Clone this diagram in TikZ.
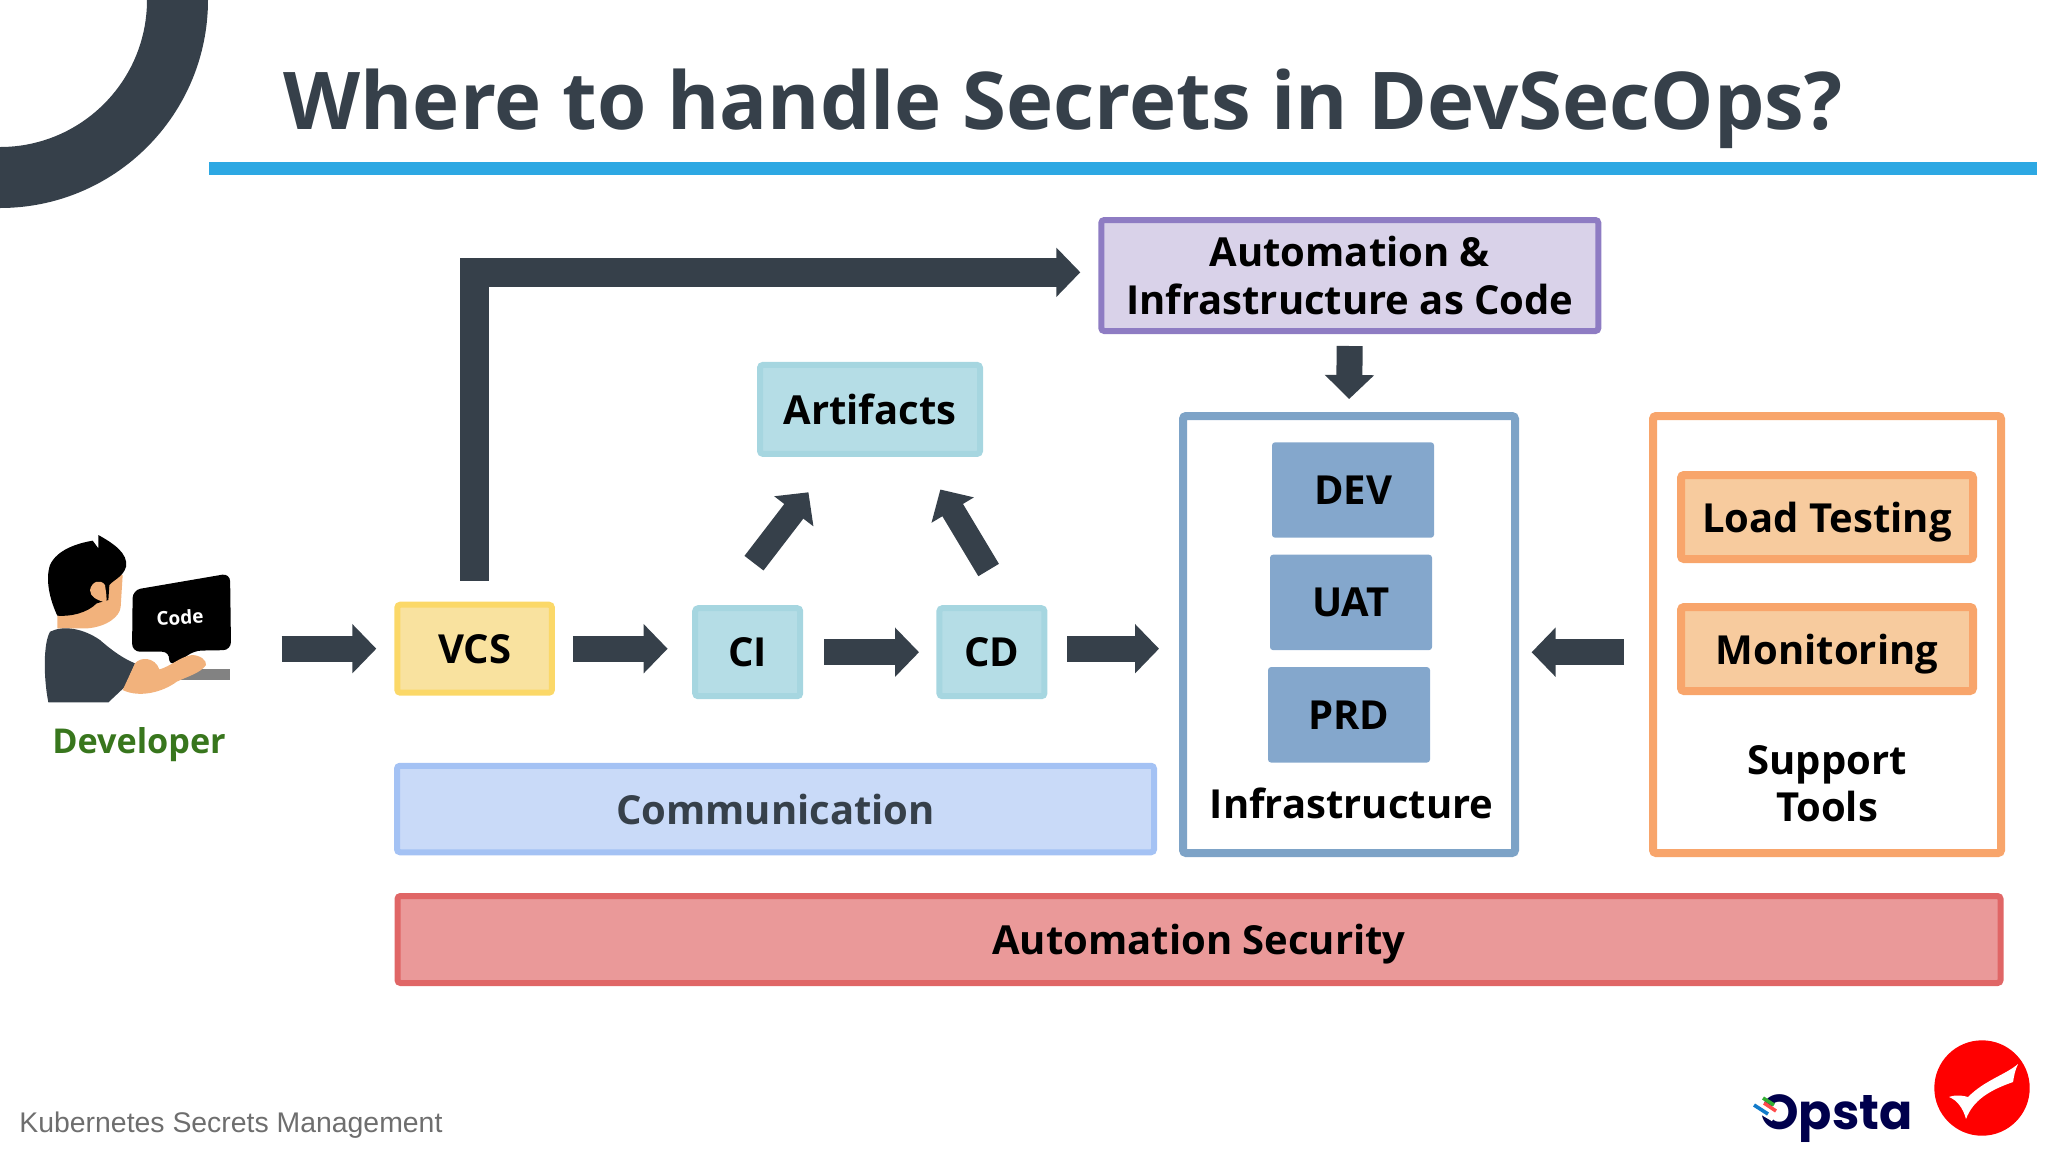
\documentclass[tikz,border=0pt]{standalone}
\usepackage{fontspec}
\setmainfont{Open Sans}
\newfontfamily\footfont{Liberation Sans}
\newfontfamily\logofont{Poppins}
\usepackage{tikz}
\usetikzlibrary{arrows.meta}

\definecolor{slate}{HTML}{36404A}
\definecolor{ruleblue}{HTML}{2DA8E3}
\definecolor{skin}{HTML}{F2B27C}
\definecolor{devgreen}{HTML}{38761D}
\definecolor{vcsline}{HTML}{FBD868}
\definecolor{vcsfill}{HTML}{F9E29F}
\definecolor{pipeline}{HTML}{A6D6E0}
\definecolor{pipefill}{HTML}{B5DDE6}
\definecolor{envfill}{HTML}{84A7CC}
\definecolor{toolline}{HTML}{F8A56B}
\definecolor{toolfill}{HTML}{F7CB9E}
\definecolor{iacline}{HTML}{8E7CC3}
\definecolor{iacfill}{HTML}{D9D2E9}
\definecolor{commline}{HTML}{A4C2F4}
\definecolor{commfill}{HTML}{C9DAF8}
\definecolor{secline}{HTML}{E06666}
\definecolor{secfill}{HTML}{EA9999}
\definecolor{infraline}{HTML}{7DA3C7}
\definecolor{footgray}{HTML}{6E6E6E}

\begin{document}
\begin{tikzpicture}[x=0.5pt,y=-0.5pt,node distance=50pt,
	base node/.style={rectangle,draw,line width=3pt,rounded corners=1.5pt,inner sep=0pt,font=\fontsize{20}{23.6}\selectfont\bfseries,align=center},
	vcs node/.style={base node,draw=vcsline,fill=vcsfill,minimum width=77.3pt,minimum height=44pt},
	pipe node/.style={base node,draw=pipeline,fill=pipefill,minimum height=44pt},
	env node/.style={base node,draw=none,outer sep=0pt,fill=envfill,minimum width=81pt,minimum height=47.7pt},
	frame node/.style={base node,line width=4pt,minimum height=218.5pt},
	tool node/.style={base node,line width=4pt,draw=toolline,fill=toolfill,minimum width=146pt,minimum height=42pt,text depth=0pt},
	big arrow/.style={draw=slate,line width=13pt,-{Triangle[width=24pt,length=12pt]}},
	plain label/.style={font=\fontsize{20}{23.6}\selectfont\bfseries,align=center,inner sep=0pt}]

	\useasboundingbox (0,0) rectangle (2048,1152);

	% header
	\fill[slate] (208,0) arc[start angle=0,end angle=90,radius=208] -- (0,147) arc[start angle=90,end angle=0,radius=147] -- cycle;
	\fill[ruleblue] (209,162) rectangle (2037,175);
	\node[anchor=base west,inner sep=0pt,text=slate,font=\fontsize{39.87}{48}\selectfont\bfseries] (title) at (283,129) {Where to handle Secrets in DevSecOps?};

	% developer
	\begin{scope}[shift={(0,500)},x=0.1667pt,y=-0.1667pt]
		\fill[black,rounded corners=4pt] (398,270) -- (690,220) -- (693,450) -- (580,452) -- (545,480) -- (505,498) -- (510,455) -- (396,455) -- cycle;
		\fill[black!40!gray!70] (540,508) rectangle (691,540);
		\fill[skin] (172,340) -- (172,385) -- (262,385) .. controls (320,380) and (360,350) .. (362,320) -- (368,225) -- (300,220) -- cycle;
		\fill[slate] (145,607) .. controls (130,530) and (130,430) .. (150,395) .. controls (190,375) and (250,385) .. (300,420) .. controls (340,455) and (370,475) .. (405,490) -- (375,560) -- (325,607) -- cycle;
		\fill[skin] (405,490) .. controls (420,470) and (465,470) .. (478,508) .. controls (510,500) and (540,470) .. (575,465) .. controls (600,465) and (620,480) .. (618,495) .. controls (600,520) and (560,530) .. (530,545) .. controls (490,575) and (420,595) .. (368,570) -- cycle;
		\fill[black] (172,347) .. controls (150,300) and (135,240) .. (150,195) .. controls (170,150) and (230,130) .. (278,122) -- (295,145) -- (295,105) .. controls (340,130) and (385,160) .. (378,200) .. controls (370,230) and (340,240) .. (328,255) -- (325,300) -- (290,310) .. controls (260,340) and (210,350) .. (172,347) -- cycle;
		\fill[skin] (270,270) .. controls (275,245) and (300,235) .. (315,255) .. controls (318,280) and (322,295) .. (318,308) .. controls (290,300) and (270,290) .. (270,270) -- cycle;
		\node[text=white,font=\fontsize{9.5}{11}\selectfont\bfseries,rotate=3,inner sep=0pt] (code) at (540,352) {Code};
	\end{scope}
	\node[minimum width=94pt,minimum height=50pt,inner sep=0pt] (dev) at (139.3,649) {};
	\node[text=devgreen,font=\fontsize{17.1}{21}\selectfont\bfseries,inner sep=0pt] (devlabel) at (139,745) {Developer};

	% pipeline
	\node[vcs node] (vcs) at (474.6,648.7) {VCS};
	\node[pipe node,minimum width=52.5pt] (ci) [right of=vcs,node distance=136.55pt,yshift=-1.75pt] {CI};
	\node[pipe node,minimum width=52.5pt] (cd) [right of=ci,node distance=122.1pt] {CD};
	\node[pipe node,minimum width=110pt,minimum height=44.5pt] (artifacts) at (870,409.4) {Artifacts};
	\node[base node,draw=iacline,fill=iacfill,minimum width=248.5pt,minimum height=55.5pt] (iac) at (1349.8,275.5) {Automation \&\\Infrastructure as Code};
	\node[base node,draw=commline,fill=commfill,text=slate,minimum width=378.5pt,minimum height=43.25pt] (comm) at (775.5,809) {Communication};
	\node[base node,draw=secline,fill=secfill,minimum width=801.5pt,minimum height=43.5pt,text depth=0pt] (sec) at (1199,939.5) {Automation Security};

	% infrastructure
	\node[frame node,draw=infraline,minimum width=166pt] (infra) at (1349,634.5) {};
	\node[env node] (dev env) at (1353,490) {DEV};
	\node[env node] (uat) [below of=dev env,node distance=56.2pt,xshift=-1pt] {UAT};
	\node[env node] (prd) [below of=uat,node distance=56.2pt,xshift=-1pt] {PRD};
	\node[plain label] (infra label) at (1351.7,803) {Infrastructure};

	% support tools
	\node[frame node,draw=toolline,minimum width=174pt] (support) at (1827,634.5) {};
	\node[tool node] (load) at (1827,517) {Load Testing};
	\node[tool node] (monitor) [below of=load,node distance=66pt] {Monitoring};
	\node[plain label] (support label) at (1827,784) {Support\\Tools};

	\draw[big arrow,shorten <=24pt,shorten >=9pt] (dev.east |- vcs) -- (vcs.west);
	\draw[big arrow,shorten <=9pt,shorten >=12.3pt] (vcs.east) -- (vcs.east -| ci.west);
	\draw[big arrow,shorten <=10.5pt,shorten >=8.7pt] (ci.east) -- (cd.west);
	\draw[big arrow,shorten <=9.8pt,shorten >=10pt] (cd.east |- vcs) -- (infra.west |- vcs);
	\draw[big arrow,shorten <=12.5pt,shorten >=6.3pt] (support.west |- cd) -- (infra.east |- cd);
	\draw[big arrow,shorten <=6pt,shorten >=6.5pt] (iac.south) -- (infra.north);
	\draw[big arrow,line width=14.5pt,miter limit=4,shorten <=10.5pt,shorten >=9pt] (vcs.north) |- ([yshift=1.6pt]iac.west);
	\draw[big arrow,line width=12pt,shorten <=26.5pt,shorten >=22.3pt] ([xshift=-13pt]ci.north) -- ([xshift=-17.2pt]artifacts.south);
	\draw[big arrow,line width=12pt,shorten <=20.5pt,shorten >=19pt] ([xshift=8.9pt]cd.north) -- ([xshift=25.4pt]artifacts.south);

	% footer
	\node[anchor=base west,inner sep=0pt,text=footgray,font=\footfont\fontsize{14.2}{17}\selectfont] (footer) at (19,1132) {Kubernetes Secrets Management};
	\node[anchor=base west,inner sep=0pt,text=blue!30!black,font=\logofont\fontsize{24.5}{28}\selectfont\bfseries] (opsta) at (1760,1129.5) {Opsta};
	\draw[white,line width=6pt] (1753,1103) -- (1775,1116);
	\draw[cyan!60!blue,line width=1.8pt] (1754,1105) -- (1768,1114);
	\draw[green!60!black!80,line width=1.8pt] (1763,1098) -- (1774,1105);
	\draw[red!70!white,line width=1.8pt] (1764,1103) -- (1776,1111);
	\fill[red] (1982,1088) circle[radius=47.7];
	\fill[white] (1949,1097) .. controls (1957,1094) and (1964,1096) .. (1968,1097) .. controls (1985,1080) and (2005,1075) .. (2018,1064) .. controls (2015,1070) and (2014,1076) .. (2013,1082) .. controls (1990,1090) and (1973,1100) .. (1966,1119) .. controls (1963,1108) and (1957,1100) .. (1949,1097) -- cycle;
\end{tikzpicture}
\end{document}
